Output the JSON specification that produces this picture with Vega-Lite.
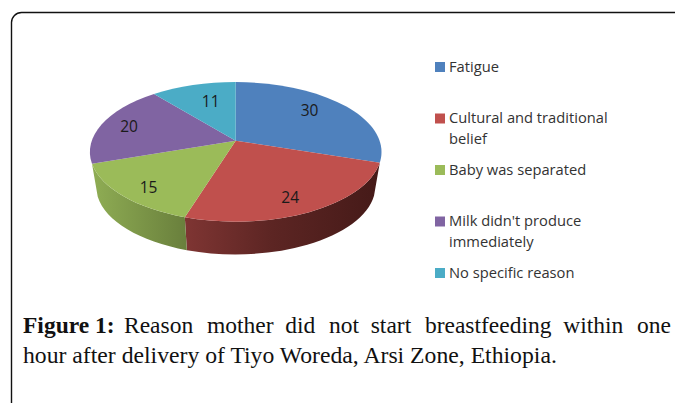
{
"$schema":"https://vega.github.io/schema/vega-lite/v6.json",
"width":675,"height":403,"padding":0,"autosize":{"type":"none"},"background":"white",
"config":{"view":{"stroke":null}},
"datasets":{"slices":[
{"reason":"Fatigue","value":30},
{"reason":"Cultural and traditional\nbelief","value":24},
{"reason":"Baby was separated","value":15},
{"reason":"Milk didn't produce\nimmediately","value":20},
{"reason":"No specific reason","value":11}
]},
"layer":[
{"data":{"values":[{"frame":1}]},"mark":{"type":"rect","filled":false,"stroke":"#111","strokeWidth":1.4,"cornerRadius":10},
 "encoding":{"x":{"value":11.5},"x2":{"value":720},"y":{"value":12.5},"y2":{"value":440}}},
{"data":{"values":[{"t":"Figure 1:"}]},"mark":{"type":"text","x":23,"y":333,"align":"left","baseline":"alphabetic","font":"Liberation Serif","fontSize":23.5,"fontWeight":"bold","color":"#111"},"encoding":{"text":{"field":"t"}}},
{"data":{"values":[{"t":"Reason\u00a0\u00a0\u200amother\u00a0\u00a0did\u00a0\u00a0\u200anot\u00a0\u00a0start\u00a0\u00a0\u200abreastfeeding\u00a0\u00a0within\u00a0\u00a0\u200aone"}]},"mark":{"type":"text","x":124,"y":333,"align":"left","baseline":"alphabetic","font":"Liberation Serif","fontSize":23.5,"color":"#111"},"encoding":{"text":{"field":"t"}}},
{"data":{"values":[{"t":"hour after delivery of Tiyo Woreda, Arsi Zone, Ethiopia."}]},"mark":{"type":"text","x":23,"y":363,"align":"left","baseline":"alphabetic","font":"Liberation Serif","fontSize":23.7,"color":"#111"},"encoding":{"text":{"field":"t"}}},
{"data":{"name":"slices"},
 "transform":[
  {"window":[{"op":"sum","field":"value","as":"cum"},{"op":"row_number","as":"idx"}]},
  {"calculate":"2*PI*(datum.cum-datum.value)/100","as":"r0"},
  {"calculate":"2*PI*datum.cum/100","as":"r1"},
  {"calculate":"(datum.r0+datum.r1)/2","as":"am"},
  {"calculate":"datum.r0+0.055*max(0,sin((datum.r0-1.885)*0.849))","as":"a0"},
  {"calculate":"datum.r1+0.055*max(0,sin((datum.r1-1.885)*0.849))","as":"a1"},
  {"calculate":"round(14400*sin(datum.a0)/(1+0.16*cos(datum.a0)))/100","as":"x0"},
  {"calculate":"round(-6800*cos(datum.a0)/(1+0.16*cos(datum.a0)))/100","as":"y0"},
  {"calculate":"round(14400*sin(datum.a1)/(1+0.16*cos(datum.a1)))/100","as":"x1"},
  {"calculate":"round(-6800*cos(datum.a1)/(1+0.16*cos(datum.a1)))/100","as":"y1"},
  {"calculate":"'M0,0L'+datum.x0+','+datum.y0+'A146,70 0 0 1 '+datum.x1+','+datum.y1+'Z'","as":"topPath"},
  {"calculate":"'M'+datum.x0+','+datum.y0+'A146,70 0 0 1 '+datum.x1+','+datum.y1+'L'+round(datum.x1*96)/100+','+(datum.y1+33)+'A140,68 0 0 0 '+round(datum.x0*96)/100+','+(datum.y0+33)+'Z'","as":"sidePath"},
  {"calculate":"(datum.value<12?0.45:0.75)*144*sin(datum.am)/(1+0.16*cos(datum.am))-6","as":"lx"},
  {"calculate":"-(datum.value<12?0.7:0.82)*68*cos(datum.am)/(1+0.16*cos(datum.am))","as":"ly"},
  {"calculate":"-73.7+51.5*(datum.idx-1)","as":"ky"}
 ],
 "layer":[
  {"transform":[{"filter":"datum.idx==2"}],
   "mark":{"type":"point","filled":true,"opacity":1,"strokeWidth":0,"color":{"gradient":"linear","x1":0,"y1":0,"x2":1,"y2":0,"stops":[{"offset":0,"color":"#7f3533"},{"offset":0.45,"color":"#5c2523"},{"offset":1,"color":"#451a18"}]}},
   "encoding":{"x":{"datum":0,"type":"quantitative","scale":{"domain":[-235.7,439.3],"nice":false,"zero":false},"axis":null},"y":{"datum":0,"type":"quantitative","scale":{"domain":[-140.7,262.3],"reverse":true,"nice":false,"zero":false},"axis":null},"shape":{"field":"sidePath","type":"nominal","scale":null},"size":{"value":4}}},
  {"transform":[{"filter":"datum.idx==3"}],
   "mark":{"type":"point","filled":true,"opacity":1,"strokeWidth":0,"color":{"gradient":"linear","x1":0,"y1":0,"x2":1,"y2":0,"stops":[{"offset":0,"color":"#8fad54"},{"offset":1,"color":"#697f3c"}]}},
   "encoding":{"x":{"datum":0,"type":"quantitative"},"y":{"datum":0,"type":"quantitative"},"shape":{"field":"sidePath","type":"nominal","scale":null},"size":{"value":4}}},
  {"mark":{"type":"point","filled":true,"opacity":1,"strokeWidth":0},
   "encoding":{"x":{"datum":0,"type":"quantitative"},"y":{"datum":0,"type":"quantitative"},"shape":{"field":"topPath","type":"nominal","scale":null},"size":{"value":4},
    "color":{"field":"reason","type":"nominal","legend":null,"scale":{"domain":["Fatigue","Cultural and traditional\nbelief","Baby was separated","Milk didn't produce\nimmediately","No specific reason"],"range":["#4f81bd","#c0504d","#9bbb59","#8064a2","#4bacc6"]}}}},
  {"mark":{"type":"text","font":"Open Sans","fontSize":15.5,"color":"#1a1a1a","align":"center","baseline":"middle"},
   "encoding":{"x":{"field":"lx","type":"quantitative"},"y":{"field":"ly","type":"quantitative"},"text":{"field":"value","type":"quantitative"}}},
  {"mark":{"type":"point","shape":"square","filled":true,"opacity":1,"strokeWidth":0},
   "encoding":{"x":{"datum":204.3,"type":"quantitative"},"y":{"field":"ky","type":"quantitative"},"size":{"value":100},"color":{"field":"reason","type":"nominal","legend":null}}},
  {"mark":{"type":"text","font":"Open Sans","fontSize":14.7,"color":"#333","align":"left","baseline":"alphabetic","lineBreak":"\n","lineHeight":21,"dy":4.5},
   "encoding":{"x":{"datum":213.3,"type":"quantitative"},"y":{"field":"ky","type":"quantitative"},"text":{"field":"reason","type":"nominal"}}}
 ]}
]}
